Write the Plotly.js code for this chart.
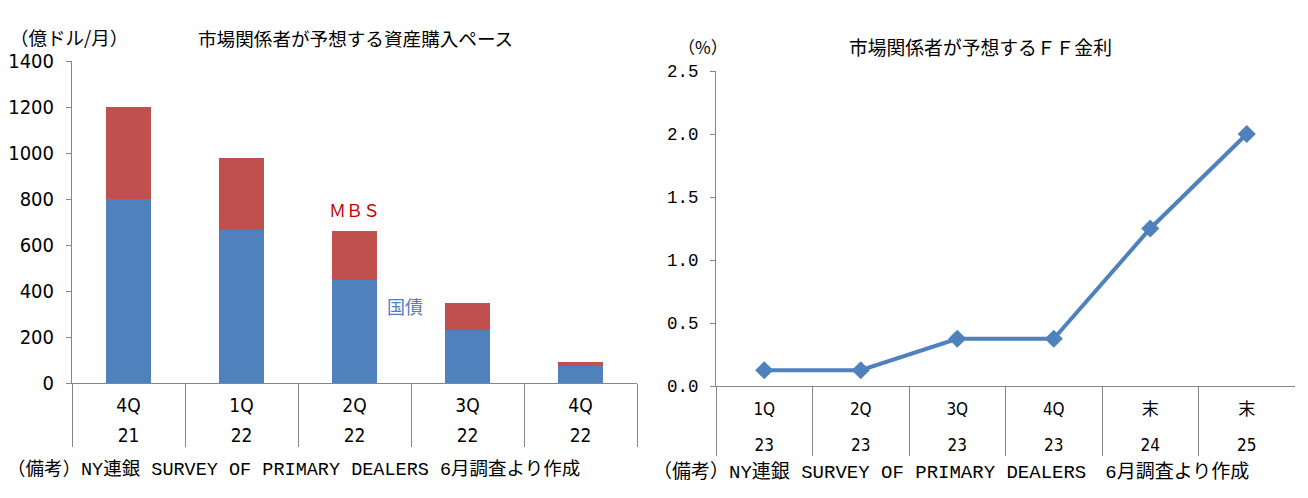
<!DOCTYPE html>
<html>
<head>
<meta charset="utf-8">
<script src="https://cdn.plot.ly/plotly-3.0.1.min.js"></script>
<style>html,body{margin:0;padding:0;background:#fff;}#chart{width:1308px;height:498px;}</style>
</head>
<body>
<div id="chart"></div>
<script>
// ---- Left chart data: asset purchase pace (100M USD / month)
const purchaseCats = ['4Q 21', '1Q 22', '2Q 22', '3Q 22', '4Q 22'];
const purchaseQuarters = ['4Q', '1Q', '2Q', '3Q', '4Q'];
const purchaseYears = ['21', '22', '22', '22', '22'];
const treasuryValues = [800, 665, 450, 232, 75];
const mbsValues = [400, 315, 210, 118, 15];

// ---- Right chart data: expected FF rate (%)
const ffCats = ['1Q 23', '2Q 23', '3Q 23', '4Q 23', '末 24', '末 25'];
const ffTop = ['1Q', '2Q', '3Q', '4Q', '末', '末'];
const ffYears = ['23', '23', '23', '23', '24', '25'];
const ffValues = [0.125, 0.125, 0.375, 0.375, 1.25, 2.0];

const W = 1308, H = 498;
const px = v => v / W;
const py = v => (H - v) / H;

const numFont = 'Liberation Sans Narrow, DejaVu Sans Condensed, Noto Sans CJK JP, sans-serif';
const monoFont = 'Liberation Mono, DejaVu Sans Mono, Noto Sans CJK JP, monospace';
const cjkFont = 'Noto Sans CJK JP, sans-serif';
const axisGrey = '#868686';

function twoLine(top, bottom, size) {
  return top.map((t, i) => `<span style="font-size:${size}px">${t}</span><br><span style="font-size:${size}px">${bottom[i]}</span>`);
}

const traces = [
  {
    type: 'bar', name: '国債', x: purchaseCats, y: treasuryValues,
    xaxis: 'x', yaxis: 'y', marker: {color: '#4F81BD'}, hoverinfo: 'skip'
  },
  {
    type: 'bar', name: 'MBS', x: purchaseCats, y: mbsValues,
    xaxis: 'x', yaxis: 'y', marker: {color: '#C0504D'}, hoverinfo: 'skip'
  },
  {
    type: 'scatter', mode: 'lines+markers', name: 'FF', x: ffCats, y: ffValues,
    xaxis: 'x2', yaxis: 'y2',
    line: {color: '#4F81BD', width: 4},
    marker: {symbol: 'diamond', size: 14, color: '#4F81BD'},
    hoverinfo: 'skip'
  }
];

const layout = {
  width: W, height: H,
  margin: {l: 0, r: 0, t: 0, b: 0},
  paper_bgcolor: '#ffffff', plot_bgcolor: '#ffffff',
  showlegend: false,
  barmode: 'stack',
  bargap: 0.6,
  font: {family: cjkFont, color: '#000'},
  xaxis: {
    domain: [px(72), px(637)], anchor: 'y',
    type: 'category', categoryorder: 'array', categoryarray: purchaseCats,
    range: [-0.5, purchaseCats.length - 0.5],
    tickvals: purchaseCats, ticktext: twoLine(purchaseQuarters, purchaseYears, 19),
    tickfont: {family: numFont, size: 23, color: '#000'},
    tickson: 'boundaries', ticks: 'outside', ticklen: 63, tickcolor: axisGrey, tickwidth: 1,
    showline: true, linecolor: axisGrey, linewidth: 1,
    showgrid: false, zeroline: false, fixedrange: true
  },
  yaxis: {
    domain: [py(383), py(61)], anchor: 'x',
    range: [0, 1400], dtick: 200, tick0: 0,
    tickfont: {family: numFont, size: 20, color: '#000'},
    ticks: 'outside', ticklen: 5, tickcolor: axisGrey, tickwidth: 1,
    ticklabelstandoff: 8,
    showline: true, linecolor: axisGrey, linewidth: 1,
    showgrid: false, zeroline: false, fixedrange: true
  },
  xaxis2: {
    domain: [px(716), px(1295)], anchor: 'y2',
    type: 'category', categoryorder: 'array', categoryarray: ffCats,
    range: [-0.5, ffCats.length - 0.5],
    tickvals: ffCats, ticktext: twoLine(ffTop, ffYears, 17),
    tickfont: {family: numFont, size: 27.5, color: '#000'},
    tickson: 'boundaries', ticks: 'outside', ticklen: 69, tickcolor: axisGrey, tickwidth: 1,
    ticklabelstandoff: -5,
    showline: true, linecolor: axisGrey, linewidth: 1,
    showgrid: false, zeroline: false, fixedrange: true
  },
  yaxis2: {
    domain: [py(386), py(71)], anchor: 'x2',
    range: [0, 2.5], dtick: 0.5, tick0: 0, tickformat: '.1f',
    tickfont: {family: monoFont, size: 17.5, color: '#000'},
    ticks: 'outside', ticklen: 5, tickcolor: axisGrey, tickwidth: 1,
    ticklabelstandoff: 8,
    showline: true, linecolor: axisGrey, linewidth: 1,
    showgrid: false, zeroline: false, fixedrange: true
  },
  annotations: [
    {text: '市場関係者が予想する資産購入ペース', xref: 'paper', yref: 'paper', x: px(355), y: py(37),
     xanchor: 'center', yanchor: 'middle', showarrow: false, font: {family: cjkFont, size: 18.6, color: '#000'}},
    {text: '（億ドル/月）', xref: 'paper', yref: 'paper', x: px(69), y: py(37),
     xanchor: 'center', yanchor: 'middle', showarrow: false, font: {family: cjkFont, size: 18.5, color: '#000'}},
    {text: '市場関係者が予想するＦＦ金利', xref: 'paper', yref: 'paper', x: px(980), y: py(46),
     xanchor: 'center', yanchor: 'middle', showarrow: false, font: {family: cjkFont, size: 18.8, color: '#000'}},
    {text: '（%）', xref: 'paper', yref: 'paper', x: px(703), y: py(46),
     xanchor: 'center', yanchor: 'middle', showarrow: false, font: {family: cjkFont, size: 17, color: '#000'}},
    {text: 'ＭＢＳ', xref: 'paper', yref: 'paper', x: px(354), y: py(209),
     xanchor: 'center', yanchor: 'middle', showarrow: false, font: {family: cjkFont, size: 17, color: '#C00000'}},
    {text: '国債', xref: 'paper', yref: 'paper', x: px(405), y: py(306),
     xanchor: 'center', yanchor: 'middle', showarrow: false, font: {family: cjkFont, size: 18, color: '#4F81BD'}},
    {text: '（備考）NY連銀 SURVEY OF PRIMARY DEALERS 6月調査より作成', xref: 'paper', yref: 'paper', x: px(5), y: py(470),
     xanchor: 'left', yanchor: 'middle', showarrow: false, font: {family: monoFont, size: 18.5, color: '#000'}},
    {text: '（備考）NY連銀 SURVEY OF PRIMARY DEALERS　6月調査より作成', xref: 'paper', yref: 'paper', x: px(651), y: py(472),
     xanchor: 'left', yanchor: 'middle', showarrow: false, font: {family: monoFont, size: 19, color: '#000'}}
  ]
};

Plotly.newPlot('chart', traces, layout, {staticPlot: true, displayModeBar: false});
</script>
</body>
</html>
